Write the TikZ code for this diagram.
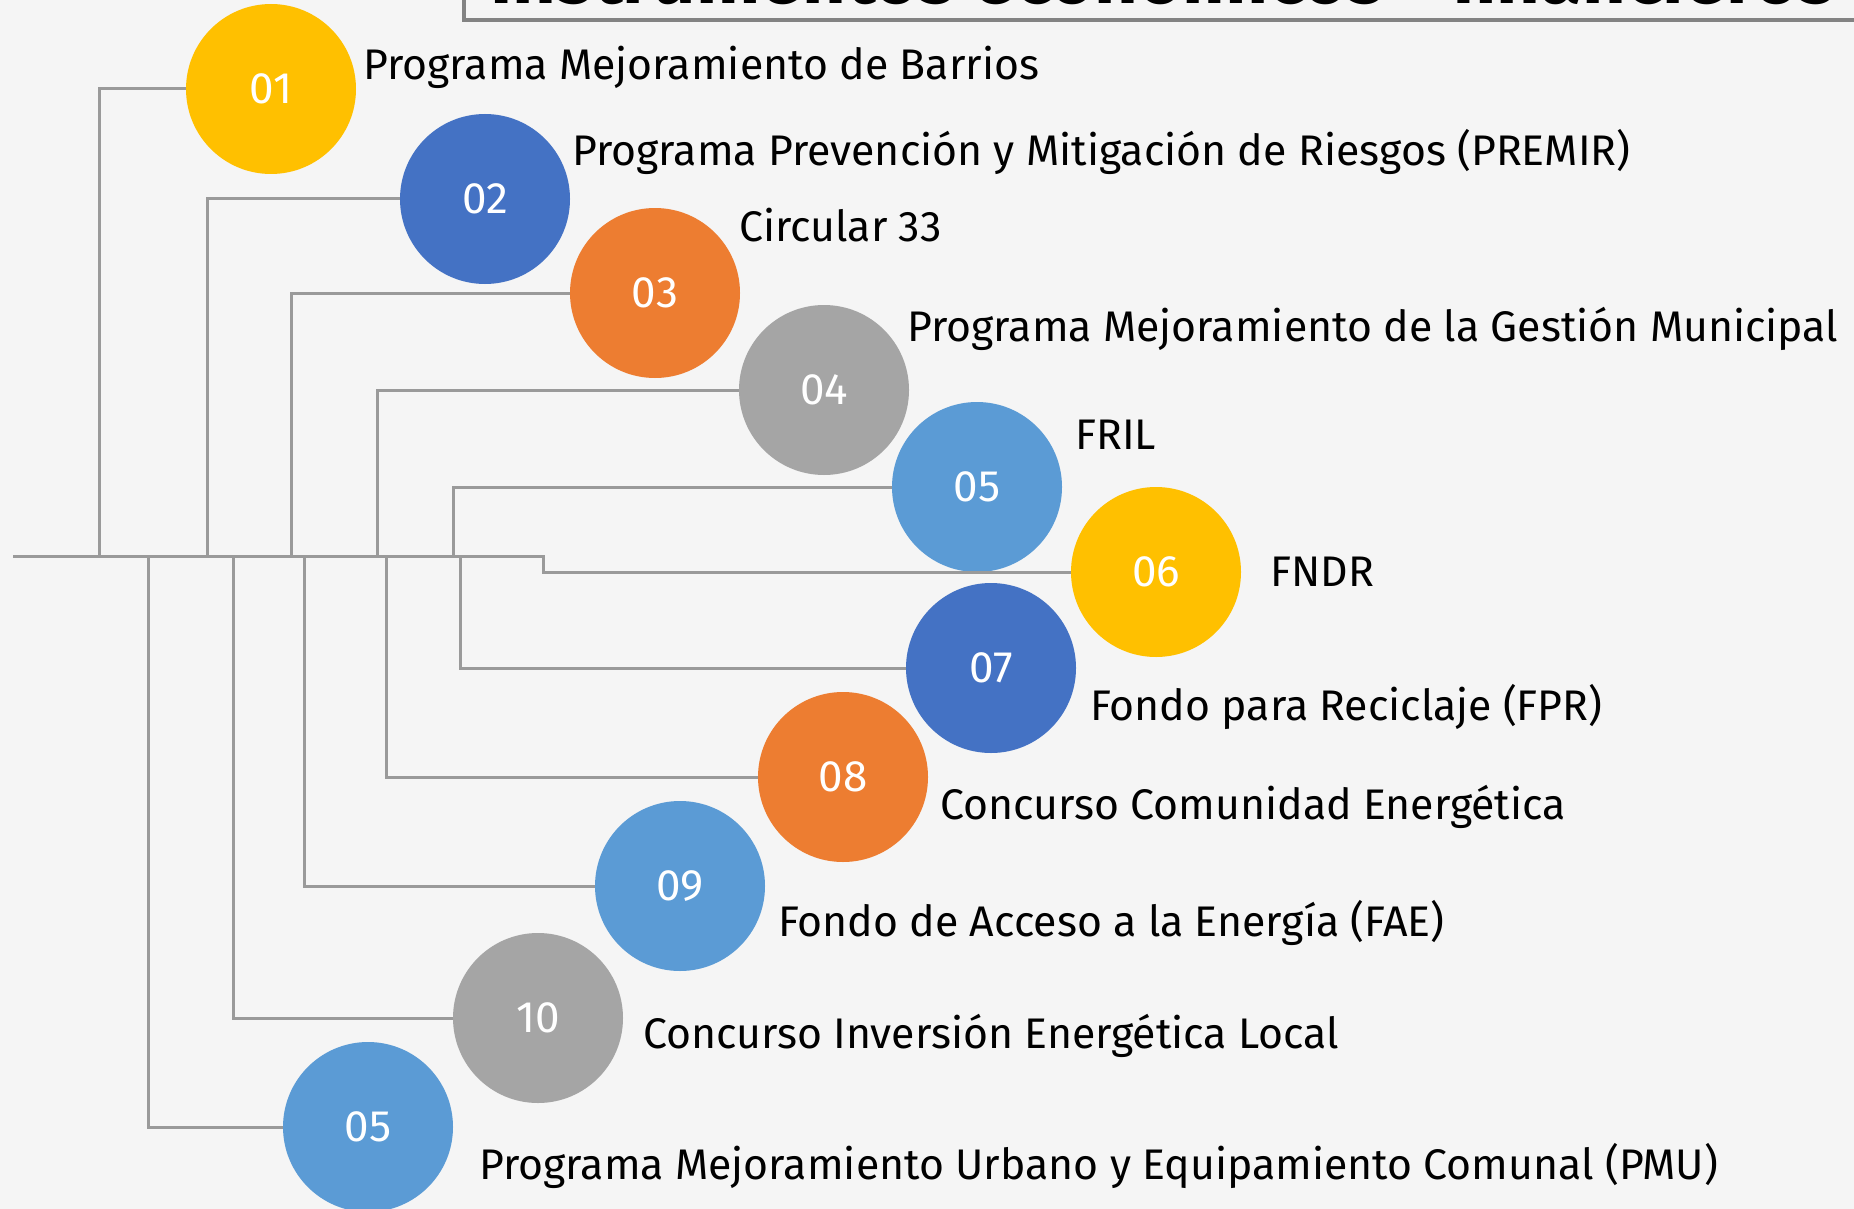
\documentclass[tikz,border=0pt]{standalone}
\usepackage{fontspec}
\setmainfont{Fira Sans}
\definecolor{bg}{HTML}{F5F5F5}
\definecolor{ln}{HTML}{9A9A9A}
\definecolor{cyel}{HTML}{FFC000}
\definecolor{cdbl}{HTML}{4472C4}
\definecolor{cora}{HTML}{ED7D31}
\definecolor{cgry}{HTML}{A5A5A5}
\definecolor{clbl}{HTML}{5B9BD5}
\begin{document}
\begin{tikzpicture}[x=1pt,y=-1pt,
  num/.style={circle,minimum size=170pt,inner sep=0pt,text=white,font=\fontsize{44}{50}\selectfont},
  lab/.style={anchor=base west,inner sep=0pt,text=black,font=\fontsize{42.8}{50}\selectfont},
  conn/.style={draw=ln,line width=3pt}]
\fill[bg] (0,0) rectangle (1854,1209);
\useasboundingbox (0,0) rectangle (1854,1209);
% title box
\draw[draw=ln!85!black,line width=3.5pt] (464,-80) -- (464,20) -- (1870,20);
\node[anchor=base west,inner sep=0pt,font=\fontsize{76}{80}\selectfont\bfseries] (title) at (490,4) {Instrumentos económicos - financieros};
% circles
\node[num,fill=cyel] (c01) at (271,89) {01};
\node[num,fill=cdbl] (c02) at (485,199) {02};
\node[num,fill=cora] (c03) at (655,293) {03};
\node[num,fill=cgry] (c04) at (824,390) {04};
\node[num,fill=clbl] (c05) at (977,487) {05};
\node[num,fill=cyel] (c06) at (1156,572) {06};
\node[num,fill=cdbl] (c07) at (991,668) {07};
\node[num,fill=cora] (c08) at (843,777) {08};
\node[num,fill=clbl] (c09) at (680,886) {09};
\node[num,fill=cgry] (c10) at (538,1018) {10};
\node[num,fill=clbl] (c11) at (368,1127) {05};
% labels
\node[lab] (l01) at (363,80) {Programa Mejoramiento de Barrios};
\node[lab] (l02) at (572,166) {Programa Prevención y Mitigación de Riesgos (PREMIR)};
\node[lab] (l03) at (739,241) {Circular 33};
\node[lab] (l04) at (907,341) {Programa Mejoramiento de la Gestión Municipal};
\node[lab] (l05) at (1075,449) {FRIL};
\node[lab] (l06) at (1270,586) {FNDR};
\node[lab] (l07) at (1090,720) {Fondo para Reciclaje (FPR)};
\node[lab] (l08) at (940,819) {Concurso Comunidad Energética};
\node[lab] (l09) at (778,936) {Fondo de Acceso a la Energía (FAE)};
\node[lab] (l10) at (643,1048) {Concurso Inversión Energética Local};
\node[lab] (l11) at (479,1179) {Programa Mejoramiento Urbano y Equipamiento Comunal (PMU)};
% junction coordinates
\coordinate (start) at (13,556);
\coordinate (step) at (543,556);
\coordinate (b01) at (99,556);
\coordinate (b02) at (207,556);
\coordinate (b03) at (291,556);
\coordinate (b04) at (377,556);
\coordinate (b05) at (453,556);
\coordinate (b07) at (460,556);
\coordinate (b08) at (386,556);
\coordinate (b09) at (304,556);
\coordinate (b10) at (233,556);
\coordinate (b11) at (148,556);
\begin{scope}[conn]
\draw (start) -- (step) |- (c06);
\draw (c01) -| (b01);
\draw (c02) -| (b02);
\draw (c03) -| (b03);
\draw (c04) -| (b04);
\draw (c05) -| (b05);
\draw (b07) |- (c07);
\draw (b08) |- (c08);
\draw (b09) |- (c09);
\draw (b10) |- (c10);
\draw (b11) |- (c11);
\end{scope}
\end{tikzpicture}
\end{document}
